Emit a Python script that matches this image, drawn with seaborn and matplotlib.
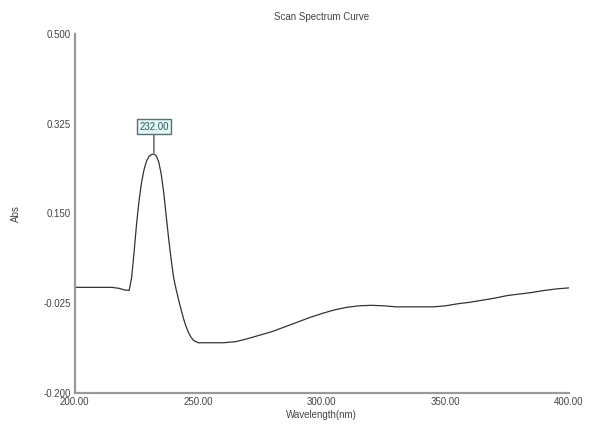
import matplotlib
matplotlib.use("Agg")
import matplotlib.pyplot as plt
import seaborn as sns
import pandas as pd

# wavelength (nm) and absorbance
wavelength = [200, 205, 210, 215, 218, 220, 222, 223, 224, 225, 226, 227, 228, 229,
              230, 231, 232, 233, 234, 235, 236, 237, 238, 239, 240, 241, 242, 243,
              244, 245, 246, 247, 248, 249, 250, 255, 260, 265, 270, 275, 280, 285,
              290, 295, 300, 305, 310, 315, 320, 325, 330, 340, 345, 350, 355, 360,
              365, 370, 375, 380, 385, 390, 395, 400]
absorbance = [0.006, 0.006, 0.006, 0.006, 0.004, 0.001, 0.000, 0.025, 0.075, 0.130,
              0.175, 0.210, 0.235, 0.252, 0.261, 0.265, 0.266, 0.262, 0.250, 0.226,
              0.190, 0.145, 0.100, 0.060, 0.025, 0.002, -0.018, -0.037, -0.055,
              -0.070, -0.082, -0.091, -0.097, -0.100, -0.102, -0.102, -0.102, -0.100,
              -0.094, -0.087, -0.080, -0.071, -0.062, -0.053, -0.045, -0.038, -0.033,
              -0.030, -0.029, -0.030, -0.032, -0.032, -0.032, -0.030, -0.026, -0.023,
              -0.019, -0.015, -0.010, -0.007, -0.004, 0.000, 0.003, 0.005]
x_ticks = [200, 250, 300, 350, 400]
y_ticks = [-0.200, -0.025, 0.150, 0.325, 0.500]
peak_wl = 232
peak_label = "232.00"

df = pd.DataFrame({"wl": wavelength, "abs": absorbance})

sns.set_style("white")
plt.rcParams['font.family'] = ['Liberation Sans', 'DejaVu Sans']

fig = plt.figure(figsize=(5.89, 4.30), dpi=100)
ax = fig.add_axes([0.127, 0.086, 0.839, 0.835])

sns.lineplot(data=df, x="wl", y="abs", ax=ax, color="#333333", linewidth=0.9)

ax.set_xlim(200, 400)
ax.set_ylim(-0.2, 0.5)
ax.set_xticks(x_ticks)
ax.set_xticklabels(["%.2f" % v for v in x_ticks])
ax.set_yticks(y_ticks)
ax.set_yticklabels(["%.3f" % v for v in y_ticks])
ax.tick_params(axis="both", direction="in", length=4, width=1, color="#777777",
               labelsize=7, labelcolor="#444444", pad=3)

for s in ["top", "right"]:
    ax.spines[s].set_visible(False)
for s in ["left", "bottom"]:
    ax.spines[s].set_color("#999999")
    ax.spines[s].set_linewidth(1.6)

ax.set_title("Scan Spectrum Curve", fontsize=7, color="#444444", pad=10)
ax.set_xlabel("Wavelength(nm)", fontsize=7, color="#444444", labelpad=2)
ax.set_ylabel("Abs", fontsize=7, color="#444444", labelpad=16)

peak_abs = df.loc[df["wl"] == peak_wl, "abs"].iloc[0]
ax.annotate(peak_label, xy=(peak_wl, peak_abs), xytext=(peak_wl, 0.319),
            ha="center", va="center", fontsize=7, color="#2a5a5a",
            bbox=dict(boxstyle="square,pad=0.25", fc="#e4f7f7", ec="#5a6f70", lw=1),
            arrowprops=dict(arrowstyle="-", color="#555555", lw=1, shrinkA=0, shrinkB=1))

fig.savefig("out.png", dpi=100)
